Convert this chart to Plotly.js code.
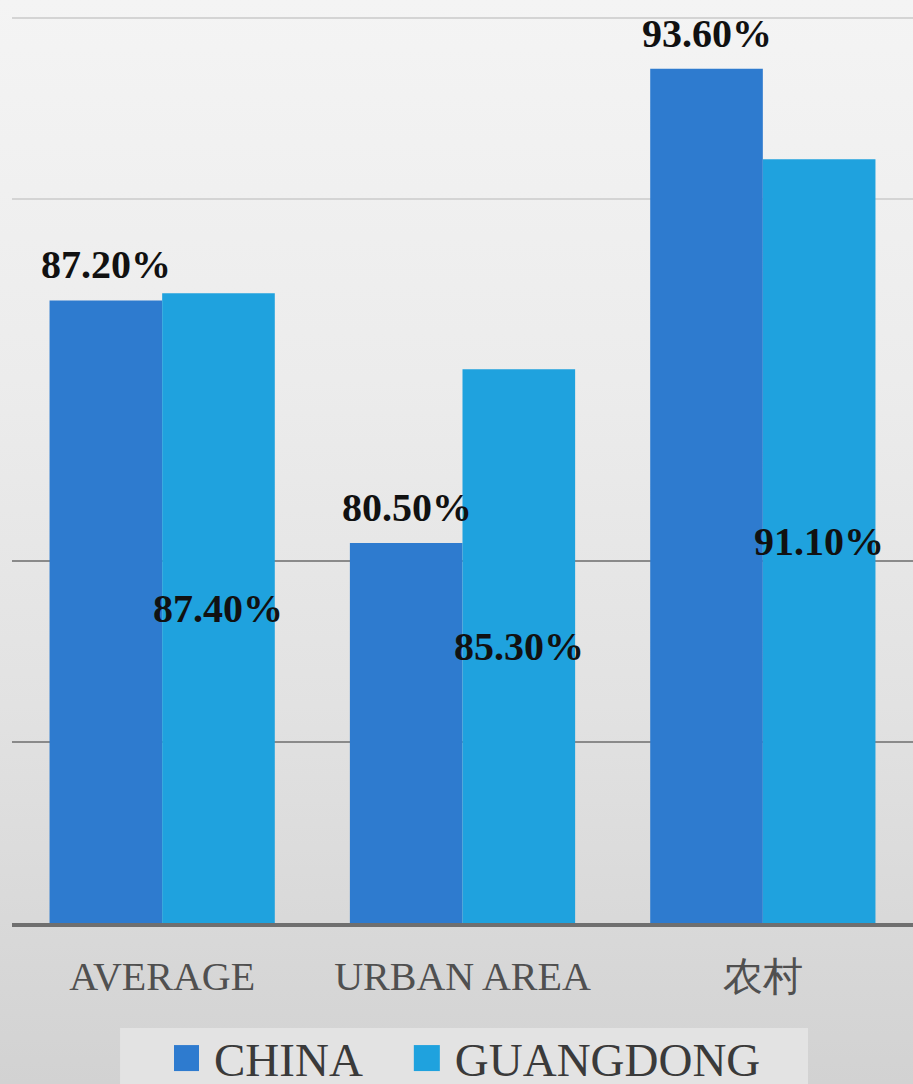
<!DOCTYPE html>
<html>
<head>
<meta charset="utf-8">
<script src="https://cdn.plot.ly/plotly-3.0.1.min.js"></script>
<style>
  html, body { margin: 0; padding: 0; }
  body { width: 913px; height: 1084px; overflow: hidden;
         background: linear-gradient(180deg, #f4f4f4 0%, #ececec 35%, #e2e2e2 65%, #d2d2d2 100%); }
  #chart { width: 913px; height: 1084px; }
</style>
</head>
<body>
<div id="chart"></div>
<script>
const categories = ["AVERAGE", "URBAN AREA", "农村"];
const seriesNames = ["CHINA", "GUANGDONG"];
const chinaValues = [87.2, 80.5, 93.6];
const guangdongValues = [87.4, 85.3, 91.1];
const darkGridVals = [75, 80];
const lightGridVals = [90, 95];

const colChina = "#2E7BCF";
const colGD = "#1FA2DE";
const labelFont = { family: "Liberation Serif, Times New Roman, serif", size: 40, color: "#111111", weight: "bold" };

const yRange = [70, 95.5];

const traces = [
  {
    type: "bar", name: seriesNames[0] + "\u00a0\u00a0\u00a0\u00a0", x: categories, y: chinaValues,
    marker: { color: colChina, line: { width: 0 } },
    hoverinfo: "skip"
  },
  {
    type: "bar", name: seriesNames[1], x: categories, y: guangdongValues,
    marker: { color: colGD, line: { width: 0 } },
    hoverinfo: "skip"
  },
  {
    type: "scatter", x: [categories[0]], y: [null], yaxis: "y2",
    showlegend: false, hoverinfo: "skip", mode: "markers"
  }
];

// CHINA labels sit above their bars; GUANGDONG labels sit at the middle of the visible bar
const chinaLabels = chinaValues.map((v, i) => ({
  x: categories[i], y: v, xref: "x", yref: "y",
  text: v.toFixed(2) + "%", showarrow: false,
  xshift: -56, yanchor: "bottom", yshift: 11,
  font: labelFont
}));
const gdLabels = guangdongValues.map((v, i) => ({
  x: categories[i], y: (yRange[0] + v) / 2, xref: "x", yref: "y",
  text: v.toFixed(2) + "%", showarrow: false,
  xshift: 56, yanchor: "middle",
  font: labelFont
}));

const layout = {
  width: 913, height: 1084,
  margin: { l: 12, r: 0, t: 0, b: 161, autoexpand: false },
  paper_bgcolor: "rgba(0,0,0,0)",
  plot_bgcolor: "rgba(0,0,0,0)",
  barmode: "group", bargap: 0.25, bargroupgap: 0,
  showlegend: true,
  xaxis: {
    type: "category", range: [-0.5, 2.5],
    showline: true, linecolor: "#6f6f6f", linewidth: 4,
    showgrid: false, zeroline: false, ticks: "",
    ticklabelstandoff: 15,
    tickfont: { family: "Liberation Serif, Times New Roman, serif", size: 40, color: "#505050" }
  },
  yaxis: {
    range: yRange, showticklabels: false, zeroline: false,
    tickmode: "array", tickvals: darkGridVals,
    showgrid: true, gridcolor: "#8a8a8a", gridwidth: 2, ticks: ""
  },
  yaxis2: {
    range: yRange, overlaying: "y", showticklabels: false, zeroline: false,
    tickmode: "array", tickvals: lightGridVals,
    showgrid: true, gridcolor: "#d4d4d4", gridwidth: 2, ticks: ""
  },
  legend: {
    orientation: "h", x: 0.1798, xanchor: "left", y: -0.1062, yanchor: "top",
    bgcolor: "rgba(0,0,0,0)", borderwidth: 0,
    font: { family: "Liberation Serif, Times New Roman, serif", size: 47, color: "#3a3a3a" },
    itemclick: false, itemdoubleclick: false
  },
  shapes: [{
    type: "rect", xref: "paper", yref: "paper",
    x0: 0.1199, x1: 0.8835, y0: -0.1138, y1: -0.2,
    fillcolor: "#e3e3e3", line: { width: 0 }, layer: "below"
  }],
  annotations: chinaLabels.concat(gdLabels)
};

Plotly.newPlot("chart", traces, layout, { displayModeBar: false, staticPlot: true }).then(() => {
  document.querySelectorAll(".legendpoints path").forEach(p => {
    p.setAttribute("d", "M5,13H-21V-13H5Z");
  });
});
</script>
</body>
</html>
